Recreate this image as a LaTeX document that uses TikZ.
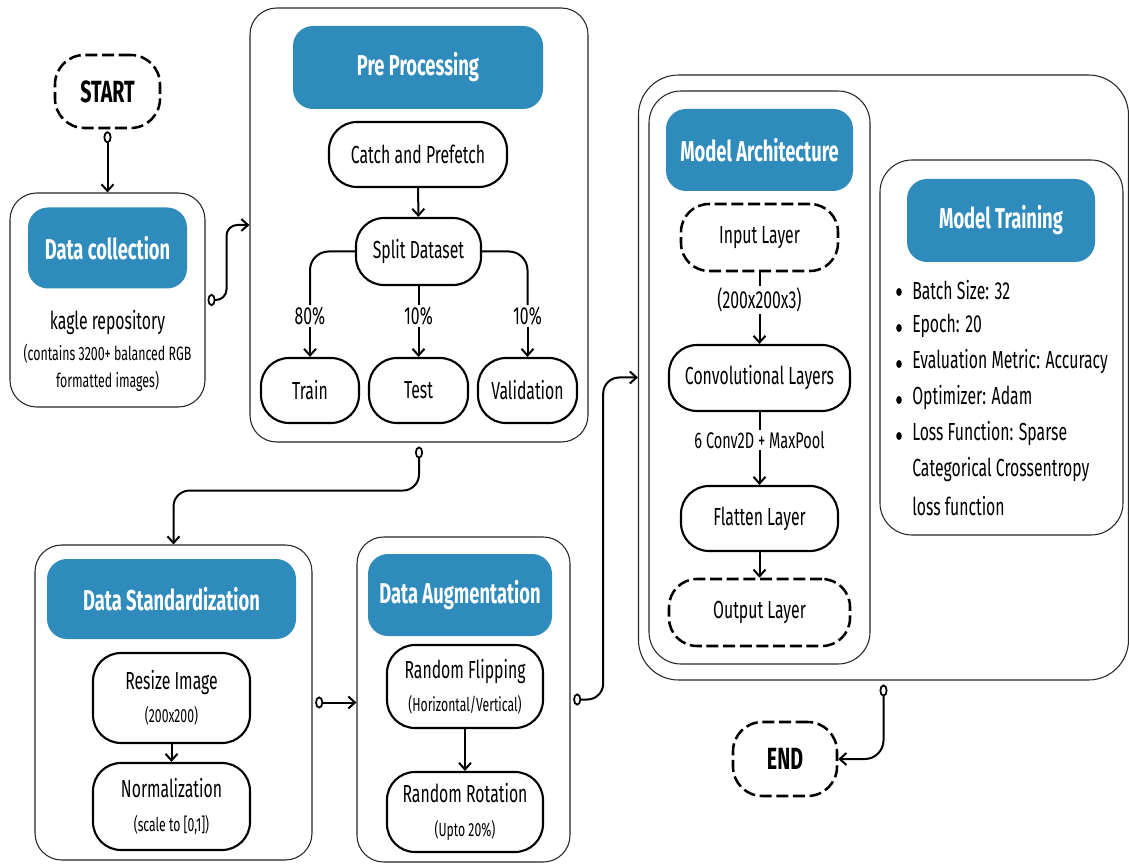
\documentclass[tikz,border=0pt]{standalone}
\usepackage{fontspec}
\setmainfont{Fira Sans}[FakeStretch=0.64]
\usetikzlibrary{arrows.meta}
\definecolor{hblue}{RGB}{46,139,187}
\newcommand\subtxt{\fontsize{14.3}{16}\selectfont}
\begin{document}
\begin{tikzpicture}[x=0.75pt,y=-0.75pt,
  sz/.style 2 args={minimum width={#1*0.75pt},minimum height={#2*0.75pt},inner sep=0pt},
  outerbox/.style={draw=black!85,line width=0.8pt,rounded corners=20pt,fill=white},
  hdr/.style={fill=hblue,rounded corners=15pt,text=white,font=\fontsize{21.5}{25}\selectfont\bfseries},
  pill/.style={draw,line width=1.6pt,rounded corners=21pt,fill=white,font=\fontsize{18.5}{21}\selectfont,align=center},
  dpill/.style={pill,dash pattern=on 9pt off 3.5pt,line width=1.9pt},
  term/.style={dpill,rounded corners=22pt,font=\fontsize{23}{26}\selectfont\bfseries},
  body/.style={font=\fontsize{18.5}{21}\selectfont,inner sep=0pt},
  small/.style={font=\fontsize{14.5}{16}\selectfont,inner sep=0pt},
  conn/.style={line width=1.5pt,-{Straight Barb[length=5pt,width=9pt,line width=1.5pt]}},
  cv/.style={{Circle[open,length=9pt,width=6pt,line width=1.3pt]}-{Straight Barb[length=5pt,width=9pt,line width=1.5pt]}},
  ch/.style={{Circle[open,length=6pt,width=9pt,line width=1.3pt]}-{Straight Barb[length=5pt,width=9pt,line width=1.5pt]}},
]
\useasboundingbox (0,0) rectangle (1129,866);

% ---------- START & Data collection
\node[term,sz={105}{73}] (start) at (107.5,91.5) {START};
\node[outerbox,sz={195}{214}] (dc) at (107.5,300) {};
\node[hdr,sz={159}{81}] (dch) at (107.5,248) {Data collection};
\node[body] (dct1) at (107.5,323) {kagle repository};
\node[small] (dct2) at (107.5,354) {(contains 3200+ balanced RGB};
\node[small] (dct3) at (107.5,381) {formatted images)};

% ---------- Pre Processing
\node[outerbox,sz={338}{434}] (pp) at (419,225) {};
\node[hdr,sz={250}{83}] (pph) at (418,67.5) {Pre Processing};
\node[pill,sz={178}{65}] (catch) at (418,154.5) {Catch and Prefetch};
\node[pill,sz={125}{67}] (split) at (418.5,251.5) {Split Dataset};
\node[pill,sz={98}{65}] (train) at (310,390.5) {Train};
\node[pill,sz={99}{65}] (test) at (418.5,390.5) {Test};
\node[pill,sz={99}{65}] (val) at (527.5,390.5) {Validation};
\node[body,fill=white,inner sep=1pt] (l80) at (310,316) {80\%};
\node[body,fill=white,inner sep=1pt] (l10a) at (418.5,316) {10\%};
\node[body,fill=white,inner sep=1pt] (l10b) at (527.5,316) {10\%};

% ---------- Data Standardization
\node[outerbox,sz={277}{315}] (ds) at (173.5,702.5) {};
\node[hdr,sz={249}{80}] (dsh) at (171.5,599) {Data Standardization};
\node[pill,sz={157}{90}] (resize) at (171.5,698) {Resize Image\\[4pt]{\subtxt (200x200)}};
\node[pill,sz={157}{87}] (norm) at (171.5,806.5) {Normalization\\[4pt]{\subtxt (scale to [0,1])}};

% ---------- Data Augmentation
\node[outerbox,sz={213}{325}] (da) at (463.5,699.5) {};
\node[hdr,sz={184}{82}] (dah) at (460,595) {Data Augmentation};
\node[pill,sz={156}{83}] (flip) at (465,686.5) {Random Flipping\\[4pt]{\subtxt (Horizontal/Vertical)}};
\node[pill,sz={156}{80}] (rot) at (465,812) {Random Rotation\\[4pt]{\subtxt (Upto 20\%)}};

% ---------- Model
\node[outerbox,rounded corners=30pt,sz={490}{605}] (model) at (883.5,377.5) {};
\node[outerbox,rounded corners=24pt,sz={221}{573}] (arch) at (759.5,377.5) {};
\node[hdr,sz={187}{82}] (archh) at (759.5,150) {Model Architecture};
\node[dpill,sz={157}{67}] (inp) at (759.5,237.5) {Input Layer};
\node[pill,sz={181}{66}] (conv) at (759.5,378) {Convolutional Layers};
\node[pill,sz={157}{65}] (flat) at (759.5,518.5) {Flatten Layer};
\node[dpill,sz={181}{67}] (outl) at (759.5,612.5) {Output Layer};
\node[body,fill=white,inner sep=1pt] (lin) at (759.5,300) {(200x200x3)};
\node[body,font=\fontsize{17}{19}\selectfont,fill=white,inner sep=1pt] (lconv) at (759.5,440) {6 Conv2D + MaxPool};

\node[outerbox,rounded corners=24pt,sz={243}{375}] (mt) at (1001.5,347.5) {};
\node[hdr,sz={188}{83}] (mth) at (1001,220.5) {Model Training};
\foreach \i/\y/\t in {1/290/{Batch Size: 32},2/326/{Epoch: 20},3/362/{Evaluation Metric: Accuracy},4/398/{Optimizer: Adam},5/434/{Loss Function: Sparse}}{
  \fill (899,\y+2) ellipse (2.8 and 4);
  \node[body,anchor=west] (bt\i) at (912,\y) {\t};
}
\node[body,anchor=west] (bt6) at (912,470) {Categorical Crossentropy};
\node[body,anchor=west] (bt7) at (912,506) {loss function};

% ---------- END
\node[term,sz={104}{74}] (end) at (785,759) {END};

% ---------- connectors
\draw[conn,cv] ([yshift=-1.5pt]start.south) -- (dc.north);
\draw[conn,ch,rounded corners=8pt] ([xshift=1.5pt]dc.east) -- ++(19,0) |- (pp.west);
\draw[conn] (catch) -- (split);
\draw[line width=1.5pt,rounded corners=14pt] (split.west) -| (l80.north);
\draw[line width=1.5pt] (split.south) -- (l10a.north);
\draw[line width=1.5pt,rounded corners=14pt] (split.east) -| (l10b.north);
\draw[conn] (l80.south) -- (train.north);
\draw[conn] (l10a.south) -- (test.north);
\draw[conn] (l10b.south) -- (val.north);
\draw[conn,cv,rounded corners=12pt] ([yshift=-3pt]pp.south) -- ++(0,44) -| (ds.north);
\draw[conn] (resize) -- (norm);
\draw[conn] (flip) -- (rot);
\draw[conn,ch] ([xshift=2pt]ds.east) -- (ds.east -| da.west);
\draw[conn,ch,rounded corners=12pt] ([xshift=2pt]da.east) -- ++(30,0) |- (model.west);
\draw[line width=1.5pt] (inp) -- (lin);
\draw[conn] (lin) -- (conv);
\draw[line width=1.5pt] (conv) -- (lconv);
\draw[conn] (lconv) -- (flat);
\draw[conn] (flat) -- (outl);
\draw[conn,cv,rounded corners=14pt] ([yshift=-3pt]model.south) |- (end.east);
\end{tikzpicture}
\end{document}
